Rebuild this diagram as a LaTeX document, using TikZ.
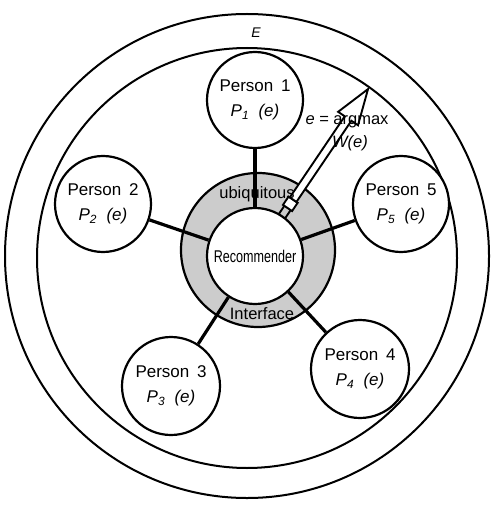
\documentclass[tikz,border=0pt]{standalone}
\usepackage{fontspec}
\setmainfont{Liberation Sans}
\usepackage{graphicx}
\begin{document}
\begin{tikzpicture}[x=1pt,y=-1pt,
  ring/.style={circle, draw, line width=2pt, inner sep=0pt},
  person/.style={circle, draw, line width=2.2pt, fill=white, minimum size=96pt, inner sep=0pt, align=center, font=\fontsize{17}{25}\selectfont},
  conn/.style={line width=3.2pt},
  arrowline/.style={line width=1.9pt},
  lbl/.style={font=\fontsize{16.5}{18}\selectfont, inner sep=0pt}]
\useasboundingbox (0,0) rectangle (494,505);
% environment rings
\node[ring, minimum size=484pt] (outer) at (247,256) {};
\node[ring, minimum size=420pt] (inner) at (247,258) {};
\node[lbl, font=\itshape\fontsize{14}{16}\selectfont] (E) at (256,33) {E};
% interface ring and recommender
\node[ring, line width=2.2pt, fill=gray!40, minimum size=154pt] (iface) at (258,250) {};
\node[ring, line width=2.2pt, fill=white, minimum size=96pt, font=\fontsize{17}{20}\selectfont] (rec) at (255,256) {\scalebox{0.74}[1]{Recommender}};
% persons
\node[person] (p1) at (255,100) {Person\hspace{0.45em}1\\ \itshape P\textsubscript{1}\ \ (e)};
\node[person] (p2) at (103,204) {Person\hspace{0.45em}2\\ \itshape P\textsubscript{2}\ \ (e)};
\node[person] (p5) at (401,204) {Person\hspace{0.45em}5\\ \itshape P\textsubscript{5}\ \ (e)};
\node[person, minimum size=98pt] (p3) at (171,386) {Person\hspace{0.45em}3\\ \itshape P\textsubscript{3}\ \ (e)};
\node[person, minimum size=98pt] (p4) at (360,369) {Person\hspace{0.45em}4\\ \itshape P\textsubscript{4}\ \ (e)};
% connectors
\draw[conn] (rec) -- (p1);
\draw[conn] (rec) -- (p2);
\draw[conn] (rec) -- (p5);
\draw[conn] (rec) -- (p3);
\draw[conn] (rec) -- (p4);
% hollow arrow from the interface
\begin{scope}[shift={(255,256)}, rotate=55.9]
  \draw[arrowline] (48,-3.8) -- (58,-3.8) (48,3.8) -- (58,3.8);
  \draw[arrowline, fill=white] (58,-5.5) rectangle (68,5.5);
  \draw[arrowline, fill=white, line join=miter] (68,-4) -- (166,-4) -- (166,-12) -- (201.6,0) -- (166,12) -- (166,4) -- (68,4) -- cycle;
\end{scope}
% labels
\node[lbl, anchor=base] (argmax) at (347,125) {\textit{e} = argmax};
\node[lbl, anchor=base] (We) at (350,147) {\textit{W(e)}};
\node[lbl, anchor=base] (ubi) at (257,198) {ubiquitous};
\node[lbl, anchor=base] (intf) at (262,319) {Interface};
\end{tikzpicture}
\end{document}
